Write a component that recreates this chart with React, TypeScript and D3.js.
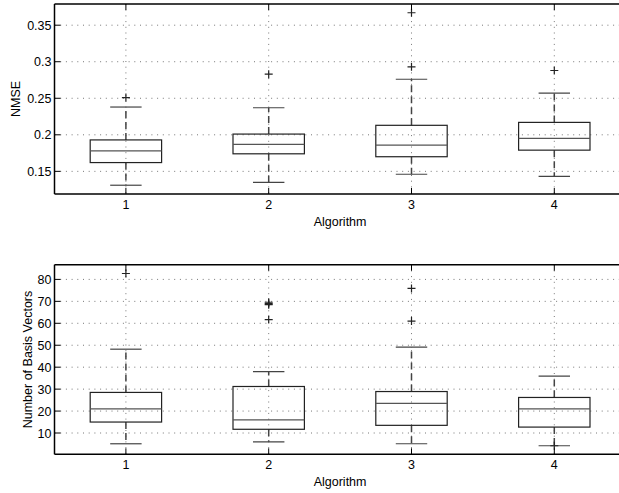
import React from "react";
import * as d3 from "d3";

// algorithm labels
const algorithms = [1, 2, 3, 4];

// NMSE box statistics per algorithm
const nmseLow = [0.131, 0.135, 0.146, 0.143];
const nmseQ1 = [0.162, 0.174, 0.170, 0.179];
const nmseMed = [0.178, 0.187, 0.186, 0.195];
const nmseQ3 = [0.193, 0.201, 0.213, 0.217];
const nmseHigh = [0.238, 0.237, 0.276, 0.257];
const nmseOutliers = [[0.251], [0.283], [0.293, 0.367], [0.288]];
const nmseTicks = [0.15, 0.2, 0.25, 0.3, 0.35];

// number of basis vectors box statistics
const basisLow = [5.1, 6.0, 5.1, 4.2];
const basisQ1 = [15.0, 11.7, 13.5, 12.7];
const basisMed = [21.0, 16.0, 23.5, 21.0];
const basisQ3 = [28.5, 31.2, 28.9, 26.2];
const basisHigh = [48.2, 38.0, 49.1, 35.9];
const basisOutliers = [[82.7], [61.7, 68.5, 69.0, 69.6], [61.0, 75.9], [4.2]];
const basisTicks = [10, 20, 30, 40, 50, 60, 70, 80];

const FONT = "'Liberation Sans', Arial, Helvetica, sans-serif";
const FS = 12.5;

type PanelProps = {
  top: number;
  bottom: number;
  yDomain: [number, number];
  ticks: number[];
  fmt: (v: number) => string;
  low: number[];
  q1: number[];
  med: number[];
  q3: number[];
  high: number[];
  outliers: number[][];
  ylabel: string;
  ylabelX: number;
};

const left = 54.5;
const right = 625.7;

const Panel = (p: PanelProps) => {
  const x = d3.scaleLinear().domain([0.5, 4.5]).range([left, right]);
  const y = d3.scaleLinear().domain(p.yDomain).range([p.bottom, p.top]);
  const boxW = x(0.25) - x(0);
  const capW = x(0.11) - x(0);
  const tickLen = 6;
  const midY = (p.top + p.bottom) / 2;

  return (
    <g>
      {/* grid */}
      {p.ticks.map((t) => (
        <line key={"gy" + t} x1={left} x2={right} y1={y(t)} y2={y(t)}
          stroke="#777" strokeWidth={1} strokeDasharray="1,4.7" />
      ))}
      {algorithms.map((a) => (
        <line key={"gx" + a} x1={x(a)} x2={x(a)} y1={p.top} y2={p.bottom}
          stroke="#777" strokeWidth={1} strokeDasharray="1,4.7" />
      ))}

      {/* boxes */}
      {algorithms.map((a, i) => (
        <g key={"b" + a}>
          <line x1={x(a)} x2={x(a)} y1={y(p.q3[i])} y2={y(p.high[i])}
            stroke="#444" strokeWidth={1.5} strokeDasharray="7,4" />
          <line x1={x(a)} x2={x(a)} y1={y(p.q1[i])} y2={y(p.low[i])}
            stroke="#444" strokeWidth={1.5} strokeDasharray="7,4" />
          <line x1={x(a) - capW} x2={x(a) + capW} y1={y(p.high[i])} y2={y(p.high[i])}
            stroke="#444" strokeWidth={1.2} />
          <line x1={x(a) - capW} x2={x(a) + capW} y1={y(p.low[i])} y2={y(p.low[i])}
            stroke="#444" strokeWidth={1.2} />
          <rect x={x(a) - boxW} width={boxW * 2} y={y(p.q3[i])}
            height={y(p.q1[i]) - y(p.q3[i])} fill="none" stroke="#222" strokeWidth={1.2} />
          <line x1={x(a) - boxW} x2={x(a) + boxW} y1={y(p.med[i])} y2={y(p.med[i])}
            stroke="#555" strokeWidth={1.2} />
          {p.outliers[i].map((o, j) => (
            <path key={j} d={`M${x(a) - 4},${y(o)}h8M${x(a)},${y(o) - 4}v8`}
              stroke="#222" strokeWidth={1.2} fill="none" />
          ))}
        </g>
      ))}

      {/* axes frame */}
      <line x1={left} x2={left} y1={p.top} y2={p.bottom} stroke="#000" strokeWidth={1.5} />
      <line x1={left} x2={right} y1={p.top} y2={p.top} stroke="#000" strokeWidth={1.5} />
      <line x1={left} x2={right} y1={p.bottom} y2={p.bottom} stroke="#000" strokeWidth={1.5} />
      {p.ticks.map((t) => (
        <g key={"ty" + t}>
          <line x1={left} x2={left + tickLen} y1={y(t)} y2={y(t)} stroke="#000" />
          <text x={left - 3} y={y(t)} dy="0.36em" textAnchor="end" fontSize={FS}
            fontFamily={FONT} fill="#000">{p.fmt(t)}</text>
        </g>
      ))}
      {algorithms.map((a) => (
        <g key={"tx" + a}>
          <line x1={x(a)} x2={x(a)} y1={p.bottom} y2={p.bottom - tickLen} stroke="#000" />
          <line x1={x(a)} x2={x(a)} y1={p.top} y2={p.top + tickLen} stroke="#000" />
          <text x={x(a)} y={p.bottom + 15} textAnchor="middle" fontSize={FS}
            fontFamily={FONT} fill="#000">{a}</text>
        </g>
      ))}
      <text x={(left + right) / 2} y={p.bottom + 31.5} textAnchor="middle" fontSize={FS}
        fontFamily={FONT} fill="#000">Algorithm</text>
      <text transform={`translate(${p.ylabelX},${midY}) rotate(-90)`} textAnchor="middle"
        fontSize={FS} fontFamily={FONT} fill="#000">{p.ylabel}</text>
    </g>
  );
};

export default function App() {
  return (
    <svg width={619} height={493} style={{ position: "absolute", left: 0, top: 0, background: "#fff" }}>
      <rect width={619} height={493} fill="#fff" />
      <Panel top={4} bottom={194} yDomain={[0.119, 0.379]} ticks={nmseTicks}
        fmt={(v) => d3.format("~g")(v)}
        low={nmseLow} q1={nmseQ1} med={nmseMed} q3={nmseQ3} high={nmseHigh}
        outliers={nmseOutliers} ylabel="NMSE" ylabelX={20} />
      <Panel top={264.7} bottom={454.3} yDomain={[0.3, 86.7]} ticks={basisTicks}
        fmt={(v) => String(v)}
        low={basisLow} q1={basisQ1} med={basisMed} q3={basisQ3} high={basisHigh}
        outliers={basisOutliers} ylabel="Number of Basis Vectors" ylabelX={31.5} />
    </svg>
  );
}
